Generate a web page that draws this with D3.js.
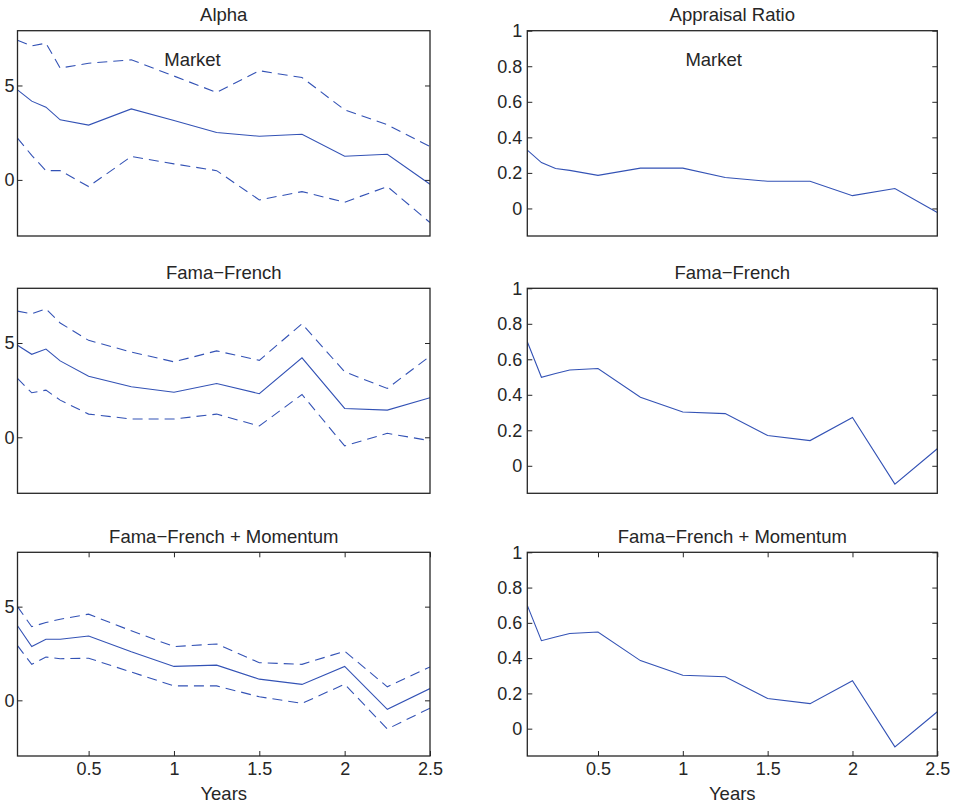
<!DOCTYPE html>
<html>
<head>
<meta charset="utf-8">
<script src="https://cdn.jsdelivr.net/npm/d3@7"></script>
<style>
  html, body { margin: 0; padding: 0; background: #fff; }
  svg { display: block; }
  text { font-family: "Liberation Sans", Arial, Helvetica, sans-serif; fill: #262626; }
</style>
</head>
<body>
<svg id="chart" width="954" height="805"></svg>
<script>
// ---- data ----
const years = [1/12, 2/12, 3/12, 4/12, 6/12, 9/12, 12/12, 15/12, 18/12, 21/12, 24/12, 27/12, 30/12];

const alphaMarket      = [4.77, 4.17, 3.85, 3.18, 2.90, 3.76, 3.15, 2.51, 2.31, 2.42, 1.25, 1.36, -0.23];
const alphaMarketUpper = [7.39, 7.10, 7.24, 5.92, 6.18, 6.36, 5.50, 4.63, 5.78, 5.42, 3.71, 2.92, 1.77];
const alphaMarketLower = [2.21, 1.30, 0.49, 0.49, -0.35, 1.24, 0.85, 0.49, -1.06, -0.62, -1.18, -0.35, -2.26];

const alphaFF      = [4.88, 4.40, 4.68, 4.05, 3.24, 2.68, 2.39, 2.85, 2.31, 4.21, 1.53, 1.44, 2.10];
const alphaFFUpper = [6.69, 6.55, 6.81, 6.06, 5.14, 4.52, 4.00, 4.58, 4.08, 6.02, 3.47, 2.59, 4.30];
const alphaFFLower = [3.12, 2.36, 2.50, 1.97, 1.23, 0.97, 0.97, 1.23, 0.60, 2.27, -0.46, 0.21, -0.18];

const alphaFFM      = [3.98, 2.87, 3.26, 3.26, 3.43, 2.59, 1.81, 1.88, 1.13, 0.85, 1.81, -0.48, 0.63];
const alphaFFMUpper = [5.00, 3.93, 4.15, 4.33, 4.60, 3.71, 2.87, 3.01, 2.01, 1.92, 2.62, 0.72, 1.78];
const alphaFFMLower = [2.92, 1.92, 2.31, 2.22, 2.25, 1.51, 0.77, 0.77, 0.19, -0.16, 0.86, -1.53, -0.42];

const apprMarket = [0.328, 0.258, 0.225, 0.214, 0.186, 0.227, 0.227, 0.174, 0.153, 0.153, 0.072, 0.112, -0.023];
const apprFF     = [0.699, 0.499, 0.520, 0.540, 0.548, 0.386, 0.303, 0.294, 0.171, 0.142, 0.272, -0.103, 0.096];
const apprFFM    = [0.699, 0.499, 0.520, 0.540, 0.548, 0.386, 0.303, 0.294, 0.171, 0.142, 0.272, -0.103, 0.096];

const xTicks = [0.5, 1, 1.5, 2, 2.5];
const alphaTicks = [0, 5];
const apprTicks = [0, 0.2, 0.4, 0.6, 0.8, 1];

const colTitles = ["Alpha", "Appraisal Ratio"];
const rowTitles = ["Market", "Fama\u2212French", "Fama\u2212French + Momentum"];
const xLabel = "Years";

// ---- layout ----
const svg = d3.select("#chart");
const colX = [[17.5, 430], [527.3, 937.3]];
const rowY = [[30.7, 236], [288.3, 493.3], [552.3, 756]];
const lineColor = "#3352b5";
const axisColor = "#262626";
const fontSize = 18;
const titleSize = 18.5;

const alphaDomain = [-2.97, 7.9];
const apprDomain = [-0.155, 1];

function drawPanel(col, row, series, yDomain, yTicks, opts) {
  const [x0, x1] = colX[col];
  const [y0, y1] = rowY[row];
  const x = d3.scaleLinear().domain([1/12, 2.5]).range([x0, x1]);
  const y = d3.scaleLinear().domain(yDomain).range([y1, y0]);
  const g = svg.append("g");
  const clipId = `clip-${col}-${row}`;
  g.append("clipPath").attr("id", clipId)
    .append("rect").attr("x", x0).attr("y", y0).attr("width", x1 - x0).attr("height", y1 - y0);

  const line = d3.line().x((d, i) => x(years[i])).y(d => y(d));
  series.forEach(s => {
    g.append("path")
      .attr("d", line(s.values))
      .attr("fill", "none")
      .attr("stroke", lineColor)
      .attr("stroke-width", 1.1)
      .attr("stroke-dasharray", s.dashed ? "10,6" : null)
      .attr("clip-path", `url(#${clipId})`);
  });

  const yl = g.append("g").attr("transform", `translate(${x0},0)`)
    .call(d3.axisLeft(y).tickValues(yTicks).tickSize(-5).tickPadding(col === 0 ? 3 : 5)
      .tickFormat(d => d3.format("~g")(d)));
  const yr = g.append("g").attr("transform", `translate(${x1},0)`)
    .call(d3.axisRight(y).tickValues(yTicks).tickSize(-5).tickFormat(""));
  [yl, yr].forEach(a => {
    a.select(".domain").remove();
    a.selectAll("line").attr("stroke", axisColor);
    a.selectAll("text").attr("font-size", fontSize).attr("fill", axisColor)
      .style("font-family", '"Liberation Sans", Arial, sans-serif');
  });

  if (opts.xLabels) {
    const xb = g.append("g").attr("transform", `translate(0,${y1})`)
      .call(d3.axisBottom(x).tickValues(xTicks).tickSize(-5).tickPadding(6)
        .tickFormat(d => d3.format("~g")(d)));
    const xt = g.append("g").attr("transform", `translate(0,${y0})`)
      .call(d3.axisTop(x).tickValues(xTicks).tickSize(-5).tickFormat(""));
    [xb, xt].forEach(a => {
      a.select(".domain").remove();
      a.selectAll("line").attr("stroke", axisColor);
      a.selectAll("text").attr("font-size", fontSize).attr("fill", axisColor)
        .style("font-family", '"Liberation Sans", Arial, sans-serif');
    });
    g.append("text")
      .attr("x", (x0 + x1) / 2).attr("y", y1 + 44)
      .attr("text-anchor", "middle").attr("font-size", titleSize)
      .text(xLabel);
  }

  g.append("rect")
    .attr("x", x0).attr("y", y0).attr("width", x1 - x0).attr("height", y1 - y0)
    .attr("fill", "none").attr("stroke", axisColor).attr("stroke-width", 1.3);

  g.append("text")
    .attr("x", (x0 + x1) / 2).attr("y", y0 - 9.5)
    .attr("text-anchor", "middle").attr("font-size", titleSize)
    .text(opts.title);

  if (opts.inner) {
    g.append("text")
      .attr("x", opts.innerX).attr("y", y0 + 35.5)
      .attr("text-anchor", "middle").attr("font-size", titleSize)
      .text(opts.inner);
  }
}

drawPanel(0, 0, [
  {values: alphaMarket, dashed: false},
  {values: alphaMarketUpper, dashed: true},
  {values: alphaMarketLower, dashed: true}
], alphaDomain, alphaTicks, {title: colTitles[0], inner: rowTitles[0], innerX: 192.5});

drawPanel(0, 1, [
  {values: alphaFF, dashed: false},
  {values: alphaFFUpper, dashed: true},
  {values: alphaFFLower, dashed: true}
], alphaDomain, alphaTicks, {title: rowTitles[1]});

drawPanel(0, 2, [
  {values: alphaFFM, dashed: false},
  {values: alphaFFMUpper, dashed: true},
  {values: alphaFFMLower, dashed: true}
], alphaDomain, alphaTicks, {title: rowTitles[2], xLabels: true});

drawPanel(1, 0, [{values: apprMarket, dashed: false}], apprDomain, apprTicks,
  {title: colTitles[1], inner: rowTitles[0], innerX: 713.7});
drawPanel(1, 1, [{values: apprFF, dashed: false}], apprDomain, apprTicks, {title: rowTitles[1]});
drawPanel(1, 2, [{values: apprFFM, dashed: false}], apprDomain, apprTicks, {title: rowTitles[2], xLabels: true});
</script>
</body>
</html>
